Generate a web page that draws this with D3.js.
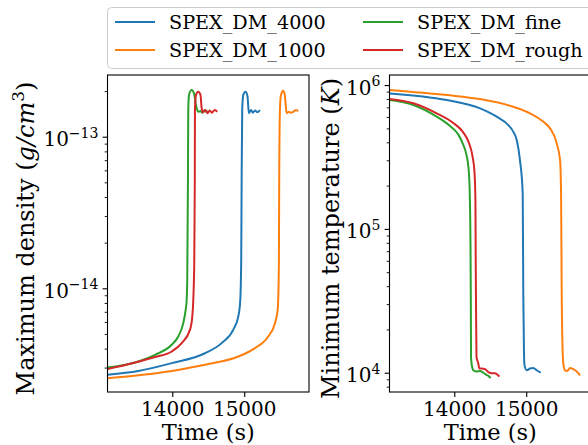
<!DOCTYPE html>
<html>
<head>
<meta charset="utf-8">
<script src="https://cdn.jsdelivr.net/npm/d3@7"></script>
<style>
  body { margin: 0; background: #fff; }
  svg { display: block; font-family: "DejaVu Serif", serif; }
</style>
</head>
<body>
<div id="chart"></div>
<script>
// --- Data ---
const seriesNames = ["SPEX_DM_4000", "SPEX_DM_1000", "SPEX_DM_fine", "SPEX_DM_rough"];
const seriesColors = ["#1f77b4", "#ff7f0e", "#2ca02c", "#d62728"];

// maximum density (g/cm^3) vs time (s)
const densTime4000 = [13100, 13528, 13992, 14454, 14686, 14847, 14917, 14945, 14958, 14964, 14972, 14986, 15019, 15045, 15065, 15095, 15120, 15150, 15185, 15218];
const dens4000 = [2.69e-15, 2.85e-15, 3.21e-15, 3.73e-15, 4.35e-15, 5.32e-15, 6.50e-15, 8.38e-15, 1.54e-14, 5.19e-14, 1.50e-13, 1.88e-13, 1.98e-13, 1.85e-13, 1.43e-13, 1.50e-13, 1.44e-13, 1.49e-13, 1.45e-13, 1.50e-13];
const densTime1000 = [13100, 13992, 14454, 14917, 15149, 15333, 15427, 15464, 15472, 15482, 15486, 15496, 15510, 15542, 15565, 15589, 15620, 15650, 15690, 15720, 15750];
const dens1000 = [2.55e-15, 2.85e-15, 3.13e-15, 3.55e-15, 4.03e-15, 4.81e-15, 5.89e-15, 7.21e-15, 8.38e-15, 1.54e-14, 5.19e-14, 1.50e-13, 1.88e-13, 2.01e-13, 1.86e-13, 1.43e-13, 1.46e-13, 1.44e-13, 1.47e-13, 1.50e-13, 1.47e-13];
const densTimeFine = [13100, 13528, 13760, 13992, 14083, 14153, 14186, 14200, 14208, 14218, 14222, 14232, 14269, 14301, 14329, 14361, 14390, 14420, 14450, 14480, 14500];
const densFine = [3.0e-15, 3.29e-15, 3.64e-15, 4.24e-15, 4.81e-15, 5.89e-15, 7.21e-15, 8.38e-15, 1.13e-14, 5.19e-14, 1.50e-13, 1.88e-13, 2.03e-13, 1.94e-13, 1.62e-13, 1.46e-13, 1.48e-13, 1.44e-13, 1.50e-13, 1.45e-13, 1.48e-13];
const densTimeRough = [13100, 13760, 13992, 14131, 14246, 14278, 14292, 14306, 14313, 14315, 14329, 14361, 14392, 14408, 14426, 14460, 14490, 14520, 14550, 14590, 14625];
const densRough = [2.93e-15, 3.52e-15, 3.83e-15, 4.35e-15, 5.32e-15, 6.50e-15, 8.38e-15, 1.54e-14, 5.19e-14, 1.50e-13, 1.88e-13, 1.98e-13, 1.89e-13, 1.55e-13, 1.45e-13, 1.50e-13, 1.43e-13, 1.49e-13, 1.44e-13, 1.50e-13, 1.46e-13];

// minimum temperature (K) vs time (s)
const tempTime4000 = [13100, 13895, 14358, 14590, 14751, 14821, 14868, 14913, 14951, 14959, 14969, 14976, 15007, 15052, 15098, 15145, 15201];
const temp4000 = [8.75e5, 7.87e5, 6.89e5, 6.03e5, 5.27e5, 4.73e5, 4.15e5, 3.01e5, 1.77e5, 3.56e4, 1.36e4, 1.13e4, 1.04e4, 1.07e4, 1.08e4, 1.04e4, 1.0e4];
const tempTime1000 = [13100, 13895, 14358, 14821, 15053, 15238, 15331, 15424, 15470, 15484, 15493, 15507, 15518, 15539, 15571, 15608, 15654, 15702, 15748];
const temp1000 = [9.25e5, 8.52e5, 7.99e5, 7.06e5, 6.36e5, 5.56e5, 5.00e5, 3.93e5, 3.01e5, 1.77e5, 3.58e4, 1.36e4, 1.13e4, 1.04e4, 1.03e4, 1.08e4, 1.06e4, 1.02e4, 9.6e3];
const tempTimeFine = [13100, 13431, 13756, 13941, 14052, 14121, 14170, 14198, 14214, 14226, 14230, 14233, 14243, 14265, 14302, 14358, 14404, 14441, 14473, 14506];
const tempFine = [7.87e5, 7.27e5, 6.03e5, 5.19e5, 4.56e5, 3.89e5, 3.26e5, 2.65e5, 1.86e5, 7.13e4, 3.2e4, 1.29e4, 1.13e4, 1.04e4, 1.02e4, 1.03e4, 1.0e4, 9.7e3, 9.5e3, 9.2e3];
const tempTimeRough = [13100, 13431, 13756, 13987, 14121, 14205, 14253, 14281, 14294, 14298, 14302, 14309, 14334, 14348, 14381, 14427, 14473, 14520, 14566, 14626];
const tempRough = [8.0e5, 7.47e5, 6.36e5, 5.45e5, 4.71e5, 3.95e5, 3.21e5, 2.48e5, 1.58e5, 6.07e4, 3.2e4, 1.29e4, 1.16e4, 1.07e4, 1.07e4, 1.06e4, 1.01e4, 9.9e3, 9.9e3, 9.4e3];

const timeTicks = [14000, 15000];
const densTickExps = [-14, -13];
const tempTickExps = [4, 5, 6];

// --- Setup ---
const W = 588, H = 445;
const svg = d3.select("#chart").append("svg")
    .attr("width", W)
    .attr("height", H);

const plotTop = 75, plotBottom = 392;
const timeDomain = [13100, 15900];

const panels = [
    {
        x0: 107.5, x1: 309,
        yDomain: [Math.pow(10, -14.684), Math.pow(10, -12.593)],
        times: [densTime4000, densTime1000, densTimeFine, densTimeRough],
        values: [dens4000, dens1000, densFine, densRough],
        tickExps: densTickExps,
        labelX: 33.5,
        label: [["Maximum density (", null], ["g/cm", "italic"], ["3", "sup"], [")", "after"]]
    },
    {
        x0: 389.5, x1: 591,
        yDomain: [Math.pow(10, 3.866), Math.pow(10, 6.07)],
        times: [tempTime4000, tempTime1000, tempTimeFine, tempTimeRough],
        values: [temp4000, temp1000, tempFine, tempRough],
        tickExps: tempTickExps,
        labelX: 338.5,
        label: [["Minimum temperature (", null], ["K", "italic"], [")", null]]
    }
];

panels.forEach((p, i) => {
    const x = d3.scaleLinear().domain(timeDomain).range([p.x0, p.x1]);
    const y = d3.scaleLog().domain(p.yDomain).range([plotBottom, plotTop]);

    const clipId = "clip" + i;
    svg.append("clipPath").attr("id", clipId)
        .append("rect")
        .attr("x", p.x0).attr("y", plotTop)
        .attr("width", p.x1 - p.x0).attr("height", plotBottom - plotTop);

    // lines
    const line = d3.line()
        .x(d => x(d[0]))
        .y(d => y(d[1]))
        .curve(d3.curveMonotoneX);

    const g = svg.append("g").attr("clip-path", `url(#${clipId})`);
    p.times.forEach((ts, k) => {
        const pts = ts.map((t, j) => [t, p.values[k][j]]);
        g.append("path")
            .datum(pts)
            .attr("fill", "none")
            .attr("stroke", seriesColors[k])
            .attr("stroke-width", 2)
            .attr("stroke-linejoin", "round")
            .attr("d", line);
    });

    // frame
    svg.append("rect")
        .attr("x", p.x0).attr("y", plotTop)
        .attr("width", p.x1 - p.x0).attr("height", plotBottom - plotTop)
        .attr("fill", "none")
        .attr("stroke", "#000")
        .attr("stroke-width", 1.1);

    // x axis
    const xAxis = svg.append("g")
        .attr("transform", `translate(0,${plotBottom})`)
        .call(d3.axisBottom(x).tickValues(timeTicks).tickSize(4.9).tickPadding(4.9).tickFormat(d3.format("d")));
    xAxis.select(".domain").remove();
    xAxis.selectAll("line").attr("stroke-width", 1.1);
    xAxis.selectAll("text").attr("font-size", 20).attr("font-family", "DejaVu Serif").attr("fill", "#000");

    // y minor ticks
    const majors = p.tickExps.map(e => Math.pow(10, e));
    const minors = y.ticks().filter(v => !majors.some(m => Math.abs(m - v) / m < 1e-6));
    const yMinor = svg.append("g")
        .attr("transform", `translate(${p.x0},0)`)
        .call(d3.axisLeft(y).tickValues(minors).tickSize(2.8).tickFormat(""));
    yMinor.select(".domain").remove();
    yMinor.selectAll("line").attr("stroke-width", 0.9);

    // y major ticks
    const yAxis = svg.append("g")
        .attr("transform", `translate(${p.x0},0)`)
        .call(d3.axisLeft(y).tickValues(majors).tickSize(4.9).tickPadding(4.2).tickFormat(""));
    yAxis.select(".domain").remove();
    yAxis.selectAll("line").attr("stroke-width", 1.1);
    yAxis.selectAll(".tick text")
        .attr("font-size", 20)
        .attr("font-family", "DejaVu Serif")
        .attr("fill", "#000")
        .attr("dy", "0.45em")
        .each(function(d) {
            const t = d3.select(this);
            const e = Math.round(Math.log10(d));
            t.append("tspan").text("10");
            t.append("tspan")
                .attr("font-size", 14)
                .attr("dy", "-0.6em")
                .text(e < 0 ? "\u2212" + (-e) : String(e));
        });

    // x label
    svg.append("text")
        .attr("x", (p.x0 + p.x1) / 2)
        .attr("y", 440)
        .attr("text-anchor", "middle")
        .attr("font-size", 22.5)
        .text("Time (s)");

    // y label
    const yl = svg.append("text")
        .attr("transform", `translate(${p.labelX},238.5) rotate(-90)`)
        .attr("text-anchor", "middle")
        .attr("font-size", 24);
    p.label.forEach(([s, style]) => {
        const ts = yl.append("tspan").text(s);
        if (style === "italic") ts.attr("font-style", "italic");
        if (style === "sup") ts.attr("font-size", 17).attr("dy", -10);
        if (style === "after") ts.attr("dy", 10);
    });
});

// --- Legend ---
const legend = svg.append("g");
legend.append("rect")
    .attr("x", 107.5).attr("y", 7.5)
    .attr("width", 520).attr("height", 61)
    .attr("rx", 4)
    .attr("fill", "#fff")
    .attr("fill-opacity", 0.8)
    .attr("stroke", "#cccccc")
    .attr("stroke-width", 1);

const legendCols = [115, 363];
const legendRows = [22, 50];
seriesNames.forEach((name, k) => {
    const cx = legendCols[Math.floor(k / 2)];
    const cy = legendRows[k % 2];
    legend.append("line")
        .attr("x1", cx).attr("x2", cx + 40)
        .attr("y1", cy).attr("y2", cy)
        .attr("stroke", seriesColors[k])
        .attr("stroke-width", 2);
    legend.append("text")
        .attr("x", cx + 54)
        .attr("y", cy + 7)
        .attr("font-size", 19.2)
        .text(name);
});
</script>
</body>
</html>
